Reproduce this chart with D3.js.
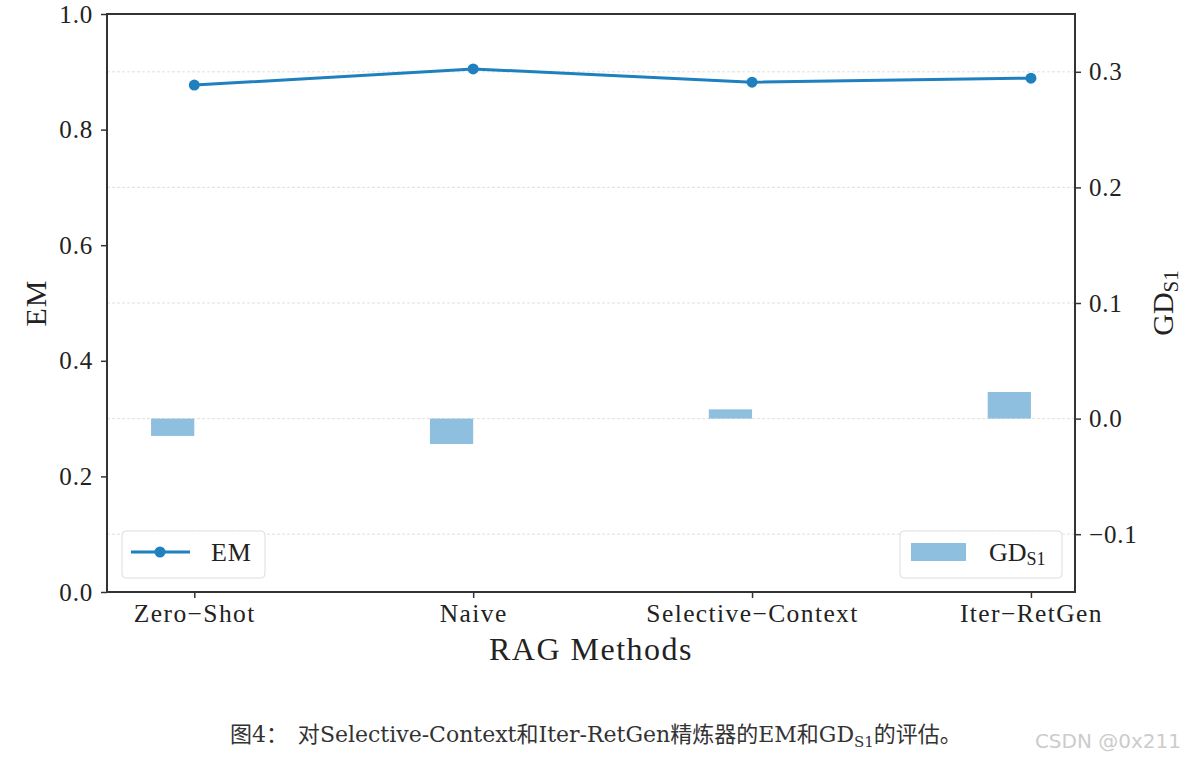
<!DOCTYPE html>
<html><head><meta charset="utf-8">
<script src="https://cdn.jsdelivr.net/npm/d3@7/dist/d3.min.js"></script>
<style>body{margin:0;background:#fff;} svg{display:block;}</style>
</head><body>
<script>
const categories = ["Zero\u2212Shot", "Naive", "Selective\u2212Context", "Iter\u2212RetGen"];
const emValues = [0.877, 0.905, 0.882, 0.889];
const gdValues = [-0.015, -0.022, 0.008, 0.023];
const leftTicks = [0.0, 0.2, 0.4, 0.6, 0.8, 1.0];
const rightTicks = [-0.1, 0.0, 0.1, 0.2, 0.3];

const W = 1185, H = 760;
const m = {left:107, right:1075, top:14, bottom:592};
const svg = d3.select("body").append("svg").attr("width", W).attr("height", H);
const serif = "'Liberation Serif','DejaVu Serif',serif";

const barW = 0.155;
const x = d3.scaleLinear().domain([-barW - 0.158, 3 + 0.158]).range([m.left, m.right]);
const yL = d3.scaleLinear().domain([0, 1]).range([m.bottom, m.top]);
const yR = d3.scaleLinear().domain([-0.15, 0.35]).range([m.bottom, m.top]);

// grid (right axis)
svg.append("g").selectAll("line").data(rightTicks).join("line")
  .attr("x1", m.left).attr("x2", m.right)
  .attr("y1", d => yR(d)).attr("y2", d => yR(d))
  .attr("stroke", "#d8d8d8").attr("stroke-width", 0.8).attr("stroke-dasharray", "3,2");

// bars
svg.append("g").selectAll("rect").data(gdValues).join("rect")
  .attr("x", (d,i) => x(i - barW)).attr("width", (d,i) => x(i) - x(i - barW))
  .attr("y", d => yR(Math.max(0, d))).attr("height", d => Math.abs(yR(d) - yR(0)))
  .attr("fill", "#8fbfdf");

// line
const line = d3.line().x((d,i) => x(i)).y(d => yL(d));
svg.append("path").datum(emValues).attr("d", line).attr("fill", "none")
  .attr("stroke", "#1f80c0").attr("stroke-width", 3);
svg.append("g").selectAll("circle").data(emValues).join("circle")
  .attr("cx", (d,i) => x(i)).attr("cy", d => yL(d)).attr("r", 5.5).attr("fill", "#1f80c0");

// axes
const fmt = d3.format(".1f");
const axL = svg.append("g").attr("transform", `translate(${m.left},0)`)
  .call(d3.axisLeft(yL).tickValues(leftTicks).tickFormat(fmt).tickSize(6).tickPadding(8));
const axR = svg.append("g").attr("transform", `translate(${m.right},0)`)
  .call(d3.axisRight(yR).tickValues(rightTicks).tickFormat(d => fmt(d).replace("-", "\u2212")).tickSize(6).tickPadding(8));
const axB = svg.append("g").attr("transform", `translate(0,${m.bottom})`)
  .call(d3.axisBottom(x).tickValues([0,1,2,3]).tickFormat(i => categories[i]).tickSize(6).tickPadding(6));
[axL, axR, axB].forEach(a => {
  a.select(".domain").remove();
  a.selectAll("line").attr("stroke", "#333").attr("stroke-width", 1.5);
  a.selectAll("text").attr("font-family", serif).attr("font-size", 25).attr("letter-spacing", 0.8).attr("fill", "#222");
});
axB.selectAll("text").attr("font-size", 25.5).attr("letter-spacing", 1.4);
// frame
svg.append("rect").attr("x", m.left).attr("y", m.top).attr("width", m.right - m.left).attr("height", m.bottom - m.top)
  .attr("fill", "none").attr("stroke", "#333").attr("stroke-width", 2);

// axis titles
svg.append("text").attr("transform", `translate(46,${(m.top+m.bottom)/2}) rotate(-90)`)
  .attr("text-anchor", "middle").attr("font-family", serif).attr("font-size", 30).attr("letter-spacing", 1).attr("fill", "#222").text("EM");
svg.append("text").attr("x", (m.left+m.right)/2).attr("y", 660).attr("text-anchor", "middle")
  .attr("font-family", serif).attr("font-size", 32).attr("letter-spacing", 1.5).attr("fill", "#222").text("RAG Methods");
const rt = svg.append("text").attr("transform", `translate(1173,${(m.top+m.bottom)/2}) rotate(-90)`)
  .attr("text-anchor", "middle").attr("font-family", serif).attr("font-size", 30).attr("fill", "#222");
rt.append("tspan").text("GD");
rt.append("tspan").attr("font-size", 21).attr("dy", 5).text("S1");

// legends
const lg1 = svg.append("g");
lg1.append("rect").attr("x", 122).attr("y", 531).attr("width", 143).attr("height", 47).attr("rx", 4)
  .attr("fill", "#fff").attr("fill-opacity", 0.8).attr("stroke", "#ddd").attr("stroke-width", 1);
lg1.append("line").attr("x1", 131).attr("x2", 190).attr("y1", 552).attr("y2", 552).attr("stroke", "#1f80c0").attr("stroke-width", 3);
lg1.append("circle").attr("cx", 160).attr("cy", 552).attr("r", 5.5).attr("fill", "#1f80c0");
lg1.append("text").attr("x", 211).attr("y", 561).attr("font-family", serif).attr("font-size", 26).attr("letter-spacing", 0.8).attr("fill", "#222").text("EM");

const lg2 = svg.append("g");
lg2.append("rect").attr("x", 900).attr("y", 531).attr("width", 162).attr("height", 47).attr("rx", 4)
  .attr("fill", "#fff").attr("fill-opacity", 0.8).attr("stroke", "#ddd").attr("stroke-width", 1);
lg2.append("rect").attr("x", 911).attr("y", 543).attr("width", 55).attr("height", 18).attr("fill", "#8fbfdf");
const lt = lg2.append("text").attr("x", 989).attr("y", 561).attr("font-family", serif).attr("font-size", 26).attr("fill", "#222");
lt.append("tspan").text("GD");
lt.append("tspan").attr("font-size", 18).attr("dy", 4).text("S1");

// caption
const latin = "DejaVu Serif";
const cjk = "Noto Sans CJK SC";
const cap = svg.append("text").attr("x", 230).attr("y", 742)
  .attr("font-size", 22).attr("fill", "#333").attr("xml:space", "preserve").style("white-space", "pre");
const parts = [
  ["图", cjk], ["4", latin], ["：  对", cjk], ["Selective-Context", latin], ["和", cjk],
  ["Iter-RetGen", latin], ["精炼器的", cjk], ["EM", latin], ["和", cjk], ["GD", latin]
];
parts.forEach(p => cap.append("tspan").style("font-family", p[1]).text(p[0]));
cap.append("tspan").style("font-family", latin).attr("font-size", 15).attr("dy", 5).text("S1");
cap.append("tspan").style("font-family", cjk).attr("dy", -5).text("的评估。");

svg.append("text").attr("x", 1181).attr("y", 748).attr("text-anchor", "end")
  .attr("font-family", "'DejaVu Sans',sans-serif").attr("font-size", 20).attr("fill", "#ccc").text("CSDN @0x211");
</script>
</body></html>
